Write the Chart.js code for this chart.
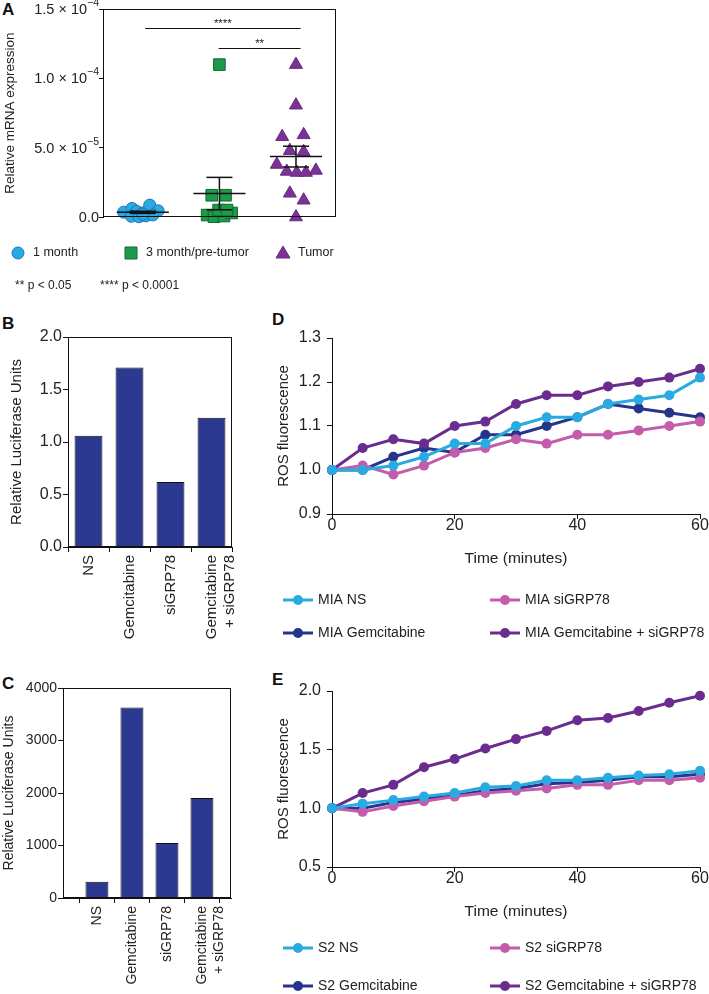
<!doctype html>
<html lang="en">
<head>
<meta charset="utf-8" />
<title>GRP78 expression, luciferase and ROS</title>
<script src="https://cdn.jsdelivr.net/npm/chart.js@4.4.1/dist/chart.umd.min.js"></script>
<style>
  body { margin: 0; background: #fff; width: 709px; height: 994px; position: relative; overflow: hidden;
         font-family: 'Liberation Sans', Arial, sans-serif; }
  canvas { position: absolute; }
  .lbl { position: absolute; font-weight: bold; font-size: 17px; line-height: 1; color: #111; }
</style>
</head>
<body>
<div class="lbl" style="left:2px;top:1px">A</div>
<div class="lbl" style="left:2px;top:315px">B</div>
<div class="lbl" style="left:2px;top:675px">C</div>
<div class="lbl" style="left:272px;top:311px">D</div>
<div class="lbl" style="left:272px;top:671px">E</div>

<canvas id="chartA" width="345" height="300" style="left:0;top:0"></canvas>
<canvas id="chartB" width="270" height="330" style="left:0;top:310px"></canvas>
<canvas id="chartC" width="270" height="344" style="left:0;top:650px"></canvas>
<canvas id="chartD" width="439" height="340" style="left:270px;top:310px"></canvas>
<canvas id="chartE" width="439" height="344" style="left:270px;top:650px"></canvas>

<script>
// ---- panel A : relative mRNA expression
const groupNames = ['1 month', '3 month/pre-tumor', 'Tumor'];
const oneMonthX = [0.75, 0.86, 0.92, 1.0, 1.09, 1.2, 0.85, 0.95, 1.04, 1.13, 1.0];
const oneMonthY = [3.5e-6, 6.2e-6, 4.0e-6, 3.0e-6, 8.6e-6, 4.5e-6, 0.5e-6, 0.2e-6, 0.8e-6, 1.5e-6, 2.0e-6];
const threeMonthX = [2.0, 1.9, 2.08, 1.84, 1.93, 2.06, 2.16, 1.99, 2.1];
const threeMonthY = [1.1e-4, 1.57e-5, 1.57e-5, 1.4e-6, 0.2e-6, 0.7e-6, 2.9e-6, 5.0e-6, 5.0e-6];
const tumorX = [3.0, 3.0, 2.82, 3.1, 2.92, 3.1, 2.75, 2.88, 3.01, 3.13, 3.26, 2.92, 3.1, 3.0];
const tumorY = [1.1e-4, 8.07e-5, 5.79e-5, 5.93e-5, 4.79e-5, 4.71e-5, 3.79e-5, 3.29e-5, 3.21e-5, 3.21e-5, 3.36e-5, 1.71e-5, 1.21e-5, 0];
const groupCenters = [1, 2, 3];
const groupMeans = [3.4e-6, 1.69e-5, 4.36e-5];
const groupSem = [0.8e-6, 1.17e-5, 0.75e-5];
const yTicksA = [0, 5e-5, 1e-4, 1.5e-4];
const yTickBaseA = ['0.0', '5.0 \u00d7 10', '1.0 \u00d7 10', '1.5 \u00d7 10'];
const yTickExpA = ['', '\u22125', '\u22124', '\u22124'];
const sigBrackets = [
  {from: 1.03, to: 3.06, y: 1.364e-4, label: '****'},
  {from: 1.99, to: 3.06, y: 1.221e-4, label: '**'}
];
const notesA = ['** p < 0.05', '**** p < 0.0001'];

// ---- panels B and C : luciferase
const categoriesBC = ['NS', 'Gemcitabine', 'siGRP78', ['Gemcitabine', '+ siGRP78']];
const valuesB = [1.06, 1.71, 0.62, 1.23];
const yTicksB = [0, 0.5, 1.0, 1.5, 2.0];
const valuesC = [310, 3630, 1048, 1905];
const yTicksC = [0, 1000, 2000, 3000, 4000];

// ---- panels D and E : ROS fluorescence
const timeMin = [0, 5, 10, 15, 20, 25, 30, 35, 40, 45, 50, 55, 60];
const xTicksDE = [0, 20, 40, 60];
const miaNS = [1.00, 1.00, 1.01, 1.03, 1.06, 1.06, 1.10, 1.12, 1.12, 1.15, 1.16, 1.17, 1.21];
const miaSi = [1.00, 1.01, 0.99, 1.01, 1.04, 1.05, 1.07, 1.06, 1.08, 1.08, 1.09, 1.10, 1.11];
const miaGem = [1.00, 1.00, 1.03, 1.05, 1.04, 1.08, 1.08, 1.10, 1.12, 1.15, 1.14, 1.13, 1.12];
const miaGemSi = [1.00, 1.05, 1.07, 1.06, 1.10, 1.11, 1.15, 1.17, 1.17, 1.19, 1.20, 1.21, 1.23];
const yTicksD = [0.9, 1.0, 1.1, 1.2, 1.3];
const s2NS = [1.00, 1.04, 1.07, 1.10, 1.13, 1.18, 1.19, 1.24, 1.24, 1.26, 1.28, 1.29, 1.32];
const s2Si = [1.00, 0.97, 1.02, 1.06, 1.10, 1.13, 1.15, 1.17, 1.20, 1.20, 1.24, 1.24, 1.26];
const s2Gem = [1.00, 1.00, 1.05, 1.08, 1.11, 1.15, 1.17, 1.21, 1.22, 1.24, 1.27, 1.27, 1.29];
const s2GemSi = [1.00, 1.13, 1.20, 1.35, 1.42, 1.51, 1.59, 1.66, 1.75, 1.77, 1.83, 1.90, 1.96];
const yTicksE = [0.5, 1.0, 1.5, 2.0];
</script>

<script>
Chart.defaults.font.family = "'Liberation Sans', Arial, sans-serif";
Chart.defaults.color = '#222';
Chart.defaults.animation = false;
const FONT = "'Liberation Sans', Arial, sans-serif";

function axisStyle(size) {
  return {
    border: {display: true, color: '#111', width: 1},
    grid: {display: true, drawOnChartArea: false, drawTicks: true, tickLength: 5, tickColor: '#111', tickWidth: 1},
    ticks: {color: '#222', font: {size: size}, padding: 2, autoSkip: false}
  };
}

function fixTicks(list) {
  return function(scale) { scale.ticks = list.map(function(v) { return {value: v}; }); };
}

const frame = {
  id: 'frame',
  afterDraw(chart) {
    const a = chart.chartArea, ctx = chart.ctx;
    ctx.save();
    ctx.strokeStyle = '#111';
    ctx.lineWidth = 1;
    ctx.strokeRect(Math.round(a.left) + 0.5, Math.round(a.top) + 0.5, Math.round(a.right - a.left) - 1, Math.round(a.bottom - a.top) - 1);
    ctx.restore();
  }
};

function marker(ctx, style, x, y) {
  ctx.beginPath();
  if (style === 'circle') ctx.arc(x, y, 6, 0, Math.PI * 2);
  else if (style === 'rect') ctx.rect(x - 6, y - 6, 12, 12);
  else { ctx.moveTo(x, y - 7); ctx.lineTo(x + 7, y + 5); ctx.lineTo(x - 7, y + 5); ctx.closePath(); }
  ctx.fill();
  ctx.stroke();
}

// ---------- A
function seg(x1, y1, x2, y2) {
  return {type: 'scatter', data: [{x: x1, y: y1}, {x: x2, y: y2}], showLine: true, borderColor: '#111',
          borderWidth: 1.5, pointRadius: 0, order: 0, clip: false, isGroup: false};
}
const meanSegs = [];
groupCenters.forEach(function(c, i) {
  const m = groupMeans[i], s = groupSem[i];
  meanSegs.push(seg(c - 0.34, m, c + 0.34, m));
  meanSegs.push(seg(c, m - s, c, m + s));
  meanSegs.push(seg(c - 0.17, m + s, c + 0.17, m + s));
  meanSegs.push(seg(c - 0.17, m - s, c + 0.17, m - s));
});
function pts(xs, ys) { return xs.map(function(x, i) { return {x: x, y: ys[i]}; }); }

const groupsA = [
  {label: groupNames[0], data: pts(oneMonthX, oneMonthY), pointStyle: 'circle', pointRadius: 6,
   backgroundColor: '#29ABE2', borderColor: '#1C75BC', borderWidth: 1, order: 1, clip: false, isGroup: true},
  {label: groupNames[1], data: pts(threeMonthX, threeMonthY), pointStyle: 'rect', pointRadius: 8.2,
   backgroundColor: '#1D9A4A', borderColor: '#0E6B30', borderWidth: 1, order: 1, clip: false, isGroup: true},
  {label: groupNames[2], data: pts(tumorX, tumorY), pointStyle: 'triangle', pointRadius: 7.5,
   backgroundColor: '#7B3294', borderColor: '#6A2A84', borderWidth: 1, order: 1, clip: false, isGroup: true}
];

const extrasA = {
  id: 'extrasA',
  afterDraw(chart) {
    const xs = chart.scales.x, ys = chart.scales.y, ctx = chart.ctx;
    ctx.save();
    // y tick labels with raised exponents
    ctx.fillStyle = '#222'; ctx.textBaseline = 'middle'; ctx.textAlign = 'right';
    yTicksA.forEach(function(v, i) {
      const py = ys.getPixelForValue(v), xr = ys.right - 4;
      ctx.font = '10.5px ' + FONT;
      const ew = yTickExpA[i] ? ctx.measureText(yTickExpA[i]).width : 0;
      if (ew) ctx.fillText(yTickExpA[i], xr, py - 6);
      ctx.font = '14.5px ' + FONT;
      ctx.fillText(yTickBaseA[i], xr - ew, py + 1);
    });
    sigBrackets.forEach(function(b) {
      const x1 = xs.getPixelForValue(b.from), x2 = xs.getPixelForValue(b.to);
      const py = Math.round(ys.getPixelForValue(b.y)) + 0.5;
      ctx.strokeStyle = '#111'; ctx.lineWidth = 1;
      ctx.beginPath(); ctx.moveTo(x1, py); ctx.lineTo(x2, py); ctx.stroke();
      ctx.fillStyle = '#222'; ctx.font = '11.5px ' + FONT;
      ctx.textAlign = 'center'; ctx.textBaseline = 'bottom';
      ctx.fillText(b.label, (x1 + x2) / 2, py + 1);
    });
    // legend row and p-value notes
    const lx = [18, 131, 283];
    ctx.textAlign = 'left'; ctx.textBaseline = 'middle';
    chart.data.datasets.filter(function(d) { return d.isGroup; }).forEach(function(d, i) {
      ctx.fillStyle = d.backgroundColor; ctx.strokeStyle = d.borderColor; ctx.lineWidth = 1;
      marker(ctx, d.pointStyle, lx[i], 253);
      ctx.fillStyle = '#222'; ctx.font = '12.5px ' + FONT;
      ctx.fillText(d.label, lx[i] + 15, 253);
    });
    ctx.font = '12px ' + FONT;
    ctx.fillText(notesA[0], 15, 286);
    ctx.fillText(notesA[1], 100, 286);
    ctx.restore();
  }
};

new Chart(document.getElementById('chartA'), {
  type: 'scatter',
  data: {datasets: meanSegs.concat(groupsA)},
  options: {
    responsive: false,
    layout: {padding: {top: 7, right: 7, left: 0, bottom: 83}},
    plugins: {legend: {display: false}, tooltip: {enabled: false}},
    scales: {
      x: {type: 'linear', min: 0.48, max: 3.52, display: false},
      y: Object.assign(axisStyle(13), {
        min: 0, max: 1.5e-4,
        afterBuildTicks: fixTicks(yTicksA),
        afterFit: function(s) { s.width = 103; },
        title: {display: true, text: 'Relative mRNA expression', font: {size: 13.5}, padding: {top: 2}},
        ticks: {display: false},
        grid: {display: true, drawOnChartArea: false, tickLength: 4, tickColor: '#111'}
      })
    }
  },
  plugins: [frame, extrasA]
});

// ---------- B and C
function barChart(id, values, yTicks, o) {
  new Chart(document.getElementById(id), {
    type: 'bar',
    data: {datasets: [{
      data: values.map(function(v, i) { return {x: i, y: v}; }),
      backgroundColor: '#2B3990', borderColor: '#111', borderWidth: 1,
      barPercentage: o.bar, categoryPercentage: 0.8
    }]},
    options: {
      responsive: false,
      layout: {padding: {top: o.top, right: o.right, left: 0, bottom: 0}},
      plugins: {legend: {display: false}, tooltip: {enabled: false}},
      scales: {
        x: Object.assign(axisStyle(o.xFont), {
          type: 'linear', min: o.xMin, max: o.xMax, offset: false,
          afterBuildTicks: fixTicks([0, 1, 2, 3]),
          afterFit: function(s) { s.height = o.xHeight; },
          ticks: {color: '#222', font: {size: o.xFont}, padding: 3, autoSkip: false,
                  minRotation: 90, maxRotation: 90,
                  callback: function(v) { return categoriesBC[v]; }}
        }),
        y: Object.assign(axisStyle(o.yFont), {
          min: yTicks[0], max: yTicks[yTicks.length - 1],
          afterBuildTicks: fixTicks(yTicks),
          afterFit: function(s) { s.width = o.yWidth; },
          title: {display: true, text: 'Relative Luciferase Units', font: {size: o.titleFont}, padding: {top: o.titlePad}},
          ticks: {color: '#222', font: {size: o.yFont}, padding: 1,
                  callback: function(v) { return o.fmt(v); }}
        })
      }
    },
    plugins: [frame]
  });
}

barChart('chartB', valuesB, yTicksB, {top: 27, right: 38, yWidth: 68, xHeight: 93, xMin: -0.5, xMax: 3.5,
  bar: 0.85, xFont: 15, yFont: 16, titleFont: 15, titlePad: 8, fmt: function(v) { return v.toFixed(1); }});
barChart('chartC', valuesC, yTicksC, {top: 38, right: 39, yWidth: 63, xHeight: 96, xMin: -0.97, xMax: 3.83,
  bar: 0.82, xFont: 14, yFont: 14, titleFont: 14, titlePad: 1, fmt: function(v) { return String(v); }});

// ---------- D and E
function lineLegend(rows) {
  return {
    id: 'lineLegend',
    afterDraw(chart) {
      const ctx = chart.ctx, cols = [13, 220];
      ctx.save();
      chart.data.datasets.forEach(function(ds, i) {
        const x = cols[i % 2], y = rows[Math.floor(i / 2)];
        ctx.strokeStyle = ds.borderColor; ctx.lineWidth = 3;
        ctx.beginPath(); ctx.moveTo(x, y); ctx.lineTo(x + 30, y); ctx.stroke();
        ctx.fillStyle = ds.borderColor;
        ctx.beginPath(); ctx.arc(x + 15, y, 5, 0, Math.PI * 2); ctx.fill();
        ctx.fillStyle = '#222'; ctx.font = '14px ' + FONT;
        ctx.textAlign = 'left'; ctx.textBaseline = 'middle';
        ctx.fillText(ds.label, x + 35, y);
      });
      ctx.restore();
    }
  };
}

function rosSet(label, values, color, order) {
  return {label: label, data: timeMin.map(function(t, i) { return {x: t, y: values[i]}; }),
          borderColor: color, backgroundColor: color, borderWidth: 3, pointRadius: 5,
          pointBorderWidth: 0, order: order, clip: false, tension: 0};
}

function rosChart(id, prefix, series, yTicks, o) {
  new Chart(document.getElementById(id), {
    type: 'line',
    data: {datasets: [
      rosSet(prefix + ' NS', series[0], '#29ABE2', 0),
      rosSet(prefix + ' siGRP78', series[1], '#C45CAB', 2),
      rosSet(prefix + ' Gemcitabine', series[2], '#27348B', 3),
      rosSet(prefix + ' Gemcitabine + siGRP78', series[3], '#6A2C8F', 1)
    ]},
    options: {
      responsive: false,
      layout: {padding: {top: o.top, right: 9, left: 0, bottom: o.bottom}},
      plugins: {legend: {display: false}, tooltip: {enabled: false}},
      scales: {
        x: Object.assign(axisStyle(16), {
          type: 'linear', min: 0, max: 60,
          afterBuildTicks: fixTicks(xTicksDE),
          afterFit: function(s) { s.height = 56; },
          title: {display: true, text: 'Time (minutes)', font: {size: 15.5}, padding: {bottom: 2}},
          ticks: {color: '#222', font: {size: 16}, padding: -3}
        }),
        y: Object.assign(axisStyle(16), {
          min: yTicks[0], max: yTicks[yTicks.length - 1],
          afterBuildTicks: fixTicks(yTicks),
          afterFit: function(s) { s.width = 62; },
          title: {display: true, text: 'ROS fluorescence', font: {size: 15}, padding: {top: 5}},
          ticks: {color: '#222', font: {size: 16}, padding: 6,
                  callback: function(v) { return v.toFixed(1); }}
        })
      }
    },
    plugins: [lineLegend(o.rows)]
  });
}

rosChart('chartD', 'MIA', [miaNS, miaSi, miaGem, miaGemSi], yTicksD, {top: 28, bottom: 80, rows: [290, 323]});
rosChart('chartE', 'S2', [s2NS, s2Si, s2Gem, s2GemSi], yTicksE, {top: 41, bottom: 71, rows: [298, 336]});
</script>
</body>
</html>
